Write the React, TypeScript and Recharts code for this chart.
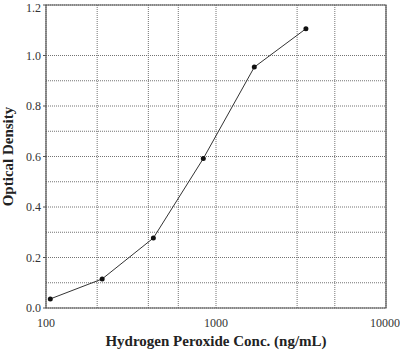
import {
    ComposedChart,
    Line,
    XAxis,
    YAxis,
    CartesianGrid,
    ReferenceArea,
} from 'recharts';

// standard curve points
const concentrations = [106, 214, 428, 842, 1680, 3380];
const densities = [0.036, 0.115, 0.277, 0.592, 0.954, 1.106];

const xTicks = [100, 1000, 10000];
const yTicks = [0, 0.2, 0.4, 0.6, 0.8, 1.0, 1.2];

// log grid: every 100 up to 1000, every 1000 up to 10000
const xGrid = [100, 200, 300, 400, 500, 600, 700, 800, 900, 1000, 2000, 3000, 4000, 5000, 6000, 7000, 8000, 9000, 10000];
const yGrid = [0, 0.1, 0.2, 0.3, 0.4, 0.5, 0.6, 0.7, 0.8, 0.9, 1.0, 1.1, 1.2];

const FONT = '"Liberation Serif", "Times New Roman", serif';

const data = concentrations.map((c, i) => ({ conc: c, od: densities[i] }));

export default function App() {
    return (
        <div style={{ position: 'absolute', left: 0, top: 0, width: 400, height: 351, background: '#fff' }}>
            <ComposedChart
                width={400}
                height={351}
                data={data}
                margin={{ top: 5, right: 14, left: 0, bottom: 0 }}
            >
                <CartesianGrid
                    stroke="#737373"
                    strokeDasharray="1 1"
                    verticalValues={xGrid}
                    horizontalValues={yGrid}
                />
                <XAxis
                    dataKey="conc"
                    type="number"
                    scale="log"
                    domain={[100, 10000]}
                    ticks={xTicks}
                    allowDataOverflow
                    height={43}
                    tickLine={false}
                    axisLine={false}
                    tick={{ fill: '#333', fontSize: 12, fontFamily: FONT }}
                    tickMargin={4}
                    label={{
                        value: 'Hydrogen Peroxide Conc. (ng/mL)',
                        position: 'insideBottom',
                        offset: 5,
                        style: { fill: '#222', fontSize: 15, fontWeight: 700, fontFamily: FONT },
                    }}
                />
                <YAxis
                    dataKey="od"
                    type="number"
                    domain={[0, 1.2]}
                    ticks={yTicks}
                    width={46}
                    tickLine={{ stroke: '#555' }}
                    tickSize={3}
                    axisLine={false}
                    tickFormatter={(v: number) => v.toFixed(1)}
                    tick={{ fill: '#333', fontSize: 12, fontFamily: FONT }}
                    label={{
                        value: 'Optical Density',
                        angle: -90,
                        position: 'insideLeft',
                        offset: 8,
                        style: { textAnchor: 'middle', fill: '#222', fontSize: 15, fontWeight: 700, fontFamily: FONT },
                    }}
                />
                <ReferenceArea
                    x1={100}
                    x2={10000}
                    y1={0}
                    y2={1.2}
                    fill="none"
                    stroke="#555"
                    strokeWidth={1.2}
                />
                <Line
                    type="linear"
                    dataKey="od"
                    stroke="#333"
                    strokeWidth={1}
                    dot={{ r: 2.5, fill: '#111', stroke: '#111', strokeWidth: 0 }}
                    isAnimationActive={false}
                />
            </ComposedChart>
        </div>
    );
}
